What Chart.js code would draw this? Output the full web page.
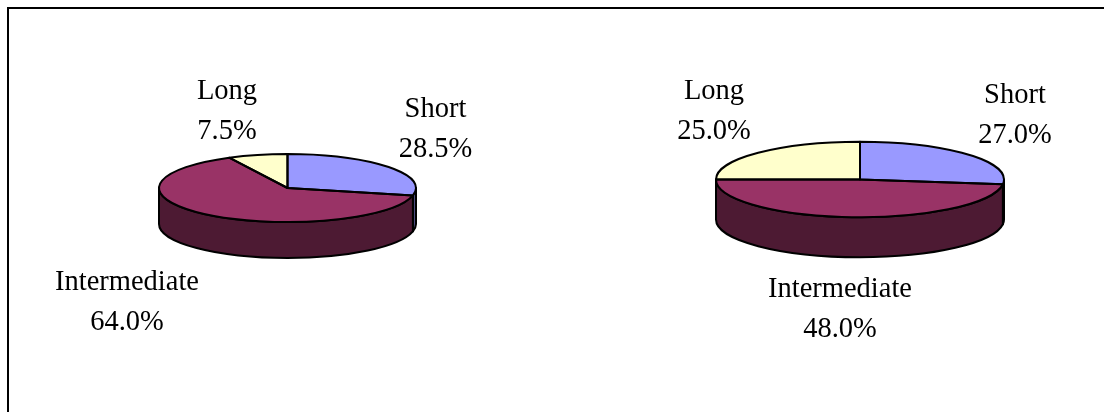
<!DOCTYPE html>
<html>
<head>
<meta charset="utf-8">
<script src="https://cdn.jsdelivr.net/npm/chart.js@4"></script>
<style>
html,body{margin:0;padding:0;background:#fff;width:1104px;height:412px;overflow:hidden}
#frame{position:absolute;left:7px;top:7px;width:1097px;height:405px;border-left:2px solid #000;border-top:2px solid #000;box-sizing:border-box}
canvas{position:absolute;top:0}
#c1{left:0}
#c2{left:552px}
</style>
</head>
<body>
<div id="frame"></div>
<canvas id="c1" width="552" height="412"></canvas>
<canvas id="c2" width="552" height="412"></canvas>
<script>
const categories = ["Short", "Intermediate", "Long"];
const leftValues = [28.5, 64.0, 7.5];
const rightValues = [27.0, 48.0, 25.0];

const topColors = ["#9999FF", "#993366", "#FFFFCC"];
const wallColors = ["#4D4D80", "#4D1A33", "#808066"];
const labelFont = '28.5px "Liberation Serif", "Times New Roman", serif';
const lineGap = 40;

const pie3d = {
  id: "pie3d",
  beforeDatasetsDraw(chart, args, opts) {
    const arcs = chart.getDatasetMeta(0).data;
    const ctx = chart.ctx;
    const a0 = arcs[0];
    const rx = a0.outerRadius, ry = rx * opts.squash;
    ctx.save();
    ctx.lineWidth = opts.lineWidth;
    ctx.strokeStyle = "#000";
    ctx.lineJoin = "round";
    arcs.forEach((arc, i) => {
      const s = Math.max(arc.startAngle, 0), e = Math.min(arc.endAngle, Math.PI);
      if (e <= s) return;
      ctx.beginPath();
      ctx.ellipse(arc.x, arc.y, rx, ry, 0, s, e);
      ctx.ellipse(arc.x, arc.y + opts.depth, rx, ry, 0, e, s, true);
      ctx.closePath();
      ctx.fillStyle = wallColors[i];
      ctx.fill();
      ctx.stroke();
    });
    ctx.restore();
    ctx.save();
    ctx.translate(a0.x, a0.y);
    ctx.scale(1, opts.squash);
    ctx.translate(-a0.x, -a0.y);
  },
  afterDatasetsDraw(chart, args, opts) {
    const ctx = chart.ctx;
    ctx.restore();
    const arcs = chart.getDatasetMeta(0).data;
    ctx.save();
    ctx.lineWidth = opts.lineWidth;
    ctx.strokeStyle = "#000";
    ctx.lineJoin = "round";
    arcs.forEach(arc => {
      const rx = arc.outerRadius, ry = rx * opts.squash;
      ctx.beginPath();
      ctx.moveTo(arc.x, arc.y);
      ctx.ellipse(arc.x, arc.y, rx, ry, 0, arc.startAngle, arc.endAngle);
      ctx.closePath();
      ctx.stroke();
    });
    ctx.restore();
  },
  afterDraw(chart, args, opts) {
    const ctx = chart.ctx;
    const values = chart.data.datasets[0].data;
    ctx.save();
    ctx.font = labelFont;
    ctx.fillStyle = "#000";
    ctx.textAlign = "center";
    ctx.textBaseline = "alphabetic";
    chart.data.labels.forEach((name, i) => {
      const [x, y] = opts.labelAt[i];
      ctx.fillText(name, x, y);
      ctx.fillText(values[i].toFixed(1) + "%", x, y + lineGap);
    });
    ctx.restore();
  }
};

function makePie(id, values, padding, squash, depth, labelAt) {
  return new Chart(document.getElementById(id), {
    type: "pie",
    data: {
      labels: categories,
      datasets: [{ data: values, backgroundColor: topColors, borderWidth: 0 }]
    },
    options: {
      responsive: false,
      animation: false,
      layout: { padding },
      plugins: {
        legend: { display: false },
        tooltip: { enabled: false },
        pie3d: { squash, depth, labelAt, lineWidth: 2 }
      }
    },
    plugins: [pie3d]
  });
}

makePie("c1", leftValues,
  { left: 159, right: 136, top: 59.5, bottom: 95.5 }, 0.265, 36,
  [[435.5, 117], [127, 290], [227, 99]]);
makePie("c2", rightValues,
  { left: 164, right: 100, top: 35.5, bottom: 88.5 }, 0.262, 40,
  [[463, 103], [288, 297], [162, 99]]);
</script>
</body>
</html>
